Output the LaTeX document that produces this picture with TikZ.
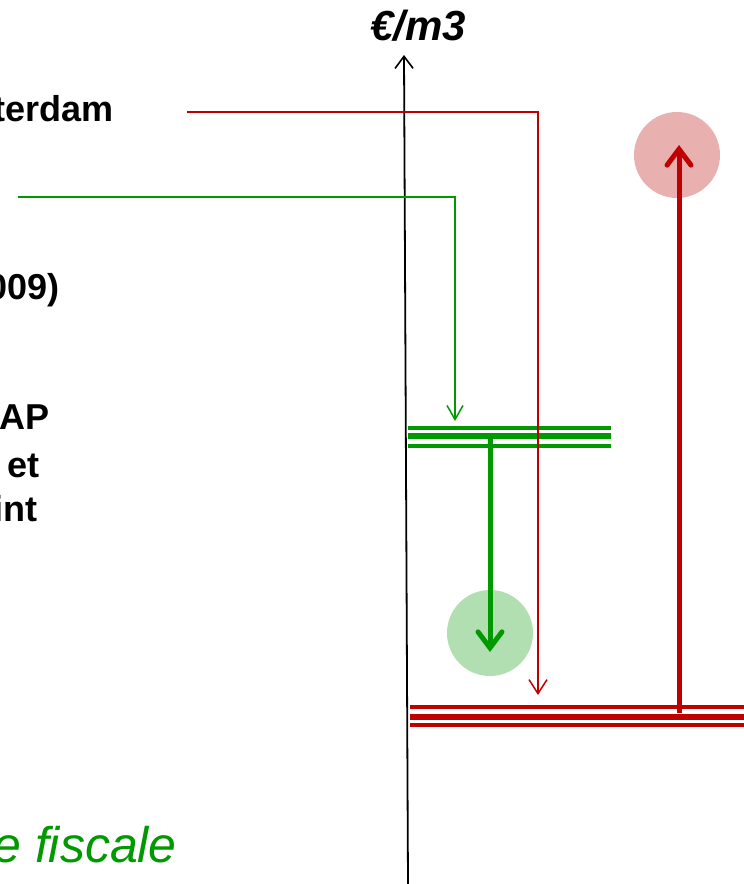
\documentclass[tikz,border=0pt]{standalone}
\usepackage{fontspec}
\setmainfont{Liberation Sans}
\usetikzlibrary{arrows.meta}
\definecolor{dred}{HTML}{C00000}
\definecolor{dgreen}{HTML}{009900}
\definecolor{lgreen}{HTML}{B2DFB2}
\definecolor{lred}{HTML}{E9B0B0}
\tikzset{
  lbl/.style={inner sep=0pt, anchor=base east, font=\fontsize{36}{43}\selectfont\bfseries},
  thinred/.style={draw=dred, line width=1.5pt, -{Straight Barb[length=14pt,width=18pt,line width=1.5pt]}},
  thingreen/.style={draw=dgreen, line width=1.5pt, -{Straight Barb[length=14pt,width=16pt,line width=1.5pt]}},
  bigarrow/.style={line width=5pt, -{Straight Barb[length=16pt,width=24pt,line width=5pt,line cap=round]}},
  blob/.style={circle, minimum size=86pt, inner sep=0pt, draw=none},
}
\begin{document}
\begin{tikzpicture}[x=1pt,y=-1pt]
\useasboundingbox (0,0) rectangle (744,884);
\clip (0,0) rectangle (744,884);

% axis
\coordinate (axB) at (408,884);
\coordinate (axT) at (404,55);
\draw[line width=1.8pt, -{Straight Barb[length=12pt,width=18pt,line width=1.6pt]}] (axB) -- (axT);
\node[inner sep=0pt, anchor=base, font=\fontsize{42}{50}\selectfont\bfseries\itshape] (unit) at (418,40) {€/m3};

% left labels (clipped)
\node[lbl] (l1) at (114,121) {terdam};
\node[lbl] (l2) at (60,299) {009)};
\node[lbl] (l3) at (50,429) {AP};
\node[lbl] (l4) at (40,477) {et};
\node[lbl] (l5) at (38,521) {int};
\node[inner sep=0pt, anchor=base east, text=dgreen, font=\fontsize{50}{58}\selectfont\itshape] (l6) at (177,862) {e fiscale};

% circles
\node[blob, fill=lgreen] (gc) at (490,633) {};
\node[blob, fill=lred] (rc) at (677,155) {};

% green triple level
\coordinate (gL) at (408,436);
\coordinate (gR) at (611,436);
\draw[dgreen, line width=3.2pt] ([yshift=-10pt]gL) -- ([yshift=-10pt]gR);
\draw[dgreen, line width=6.5pt] (gL) -- (gR);
\draw[dgreen, line width=3.2pt] ([yshift=8pt]gL) -- ([yshift=8pt]gR);

% red triple level
\coordinate (rL) at (410,717);
\coordinate (rR) at (744,717);
\draw[dred, line width=3.2pt] ([yshift=-8pt]rL) -- ([yshift=-8pt]rR);
\draw[dred, line width=6.5pt] (rL) -- (rR);
\draw[dred, line width=3.2pt] ([yshift=10pt]rL) -- ([yshift=10pt]rR);

% thin connectors
\coordinate (rs) at (187,112);
\coordinate (re) at (538,695);
\draw[thinred] (rs) -| (re);
\coordinate (gs) at (18,197);
\coordinate (ge) at (455,421);
\draw[thingreen] (gs) -| (ge);

% thick arrows
\coordinate (ga) at (490,437);
\coordinate (gb) at (490,652);
\draw[bigarrow, dgreen] (ga) -- (gb);
\coordinate (ra) at (679,713);
\coordinate (rb) at (679,145);
\draw[bigarrow, dred] (ra) -- (rb);
\end{tikzpicture}
\end{document}
